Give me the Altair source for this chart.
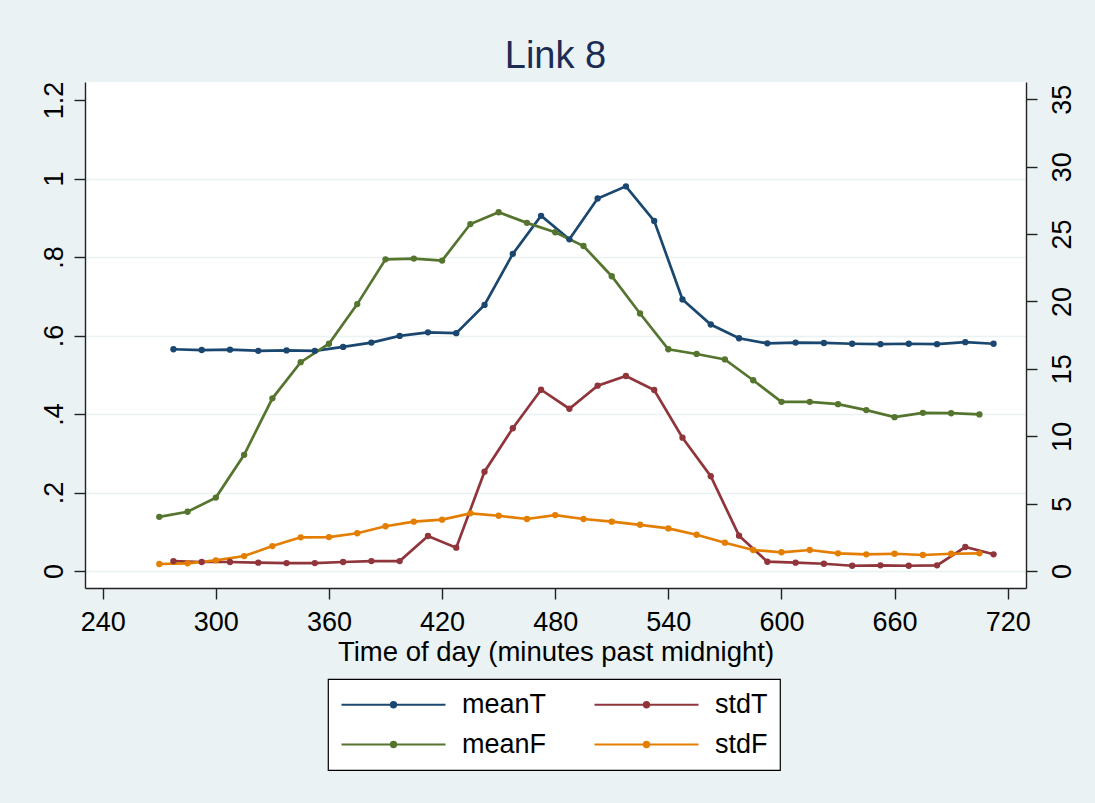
import altair as alt
import pandas as pd

# Time stamps (minutes past midnight) for the travel-time and flow series
time_T = [277.5, 292.5, 307.5, 322.5, 337.5, 352.5, 367.5, 382.5, 397.5, 412.5,
          427.5, 442.5, 457.5, 472.5, 487.5, 502.5, 517.5, 532.5, 547.5, 562.5,
          577.5, 592.5, 607.5, 622.5, 637.5, 652.5, 667.5, 682.5, 697.5, 712.5]
time_F = [270, 285, 300, 315, 330, 345, 360, 375, 390, 405,
          420, 435, 450, 465, 480, 495, 510, 525, 540, 555,
          570, 585, 600, 615, 630, 645, 660, 675, 690, 705]

meanT = [0.565, 0.563, 0.564, 0.561, 0.562, 0.561, 0.571, 0.582, 0.599, 0.608,
         0.606, 0.678, 0.808, 0.905, 0.845, 0.949, 0.980, 0.892, 0.692, 0.628,
         0.593, 0.580, 0.582, 0.581, 0.579, 0.578, 0.579, 0.578, 0.583, 0.579]
meanF = [0.138, 0.151, 0.187, 0.296, 0.440, 0.532, 0.579, 0.680, 0.794, 0.796,
         0.791, 0.884, 0.914, 0.887, 0.863, 0.828, 0.751, 0.656, 0.565, 0.553,
         0.539, 0.486, 0.431, 0.431, 0.425, 0.410, 0.392, 0.403, 0.402, 0.399]
stdT = [0.74, 0.67, 0.67, 0.62, 0.59, 0.59, 0.67, 0.74, 0.74, 2.60,
        1.73, 7.37, 10.59, 13.45, 12.04, 13.75, 14.47, 13.43, 9.89, 7.03,
        2.62, 0.69, 0.62, 0.54, 0.39, 0.42, 0.39, 0.42, 1.78, 1.24]
stdF = [0.52, 0.57, 0.79, 1.11, 1.85, 2.50, 2.52, 2.80, 3.32, 3.66,
        3.81, 4.28, 4.10, 3.86, 4.15, 3.86, 3.66, 3.43, 3.16, 2.69,
        2.10, 1.56, 1.39, 1.56, 1.31, 1.24, 1.28, 1.19, 1.28, 1.31]

series_names = ["meanT", "stdT", "meanF", "stdF"]
series_colors = ["#1a476f", "#90353b", "#55752f", "#e37e00"]

left_ticks = [0, 0.2, 0.4, 0.6, 0.8, 1, 1.2]
right_ticks = [0, 5, 10, 15, 20, 25, 30, 35]
x_ticks = [240, 300, 360, 420, 480, 540, 600, 660, 720]

frames = []
for name, t, v in [("meanT", time_T, meanT), ("stdT", time_T, stdT),
                   ("meanF", time_F, meanF), ("stdF", time_F, stdF)]:
    frames.append(pd.DataFrame({"time": t, "value": v, "series": name}))
df = pd.concat(frames, ignore_index=True)

FONT = "Liberation Sans"
W, H = 941, 506
LBL = 27

# Legend glyph: a long horizontal line with a dot in the middle.  The path is
# drawn in units far beyond [-1, 1] so a small symbol size keeps rows compact.
legend_path = ("M -13 0 L 13 0 "
               "M 0.65 0 A 0.65 0.65 0 1 1 -0.65 0 A 0.65 0.65 0 1 1 0.65 0 Z")

color = alt.Color(
    "series:N",
    scale=alt.Scale(domain=series_names, range=series_colors),
    sort=series_names,
    legend=alt.Legend(
        title=None, orient="none", legendX=243, legendY=597, columns=2,
        direction="horizontal",
        fillColor="white", strokeColor="black",
        padding=12, labelFont=FONT, labelFontSize=27, labelColor="black",
        labelOffset=55, columnPadding=43, rowPadding=12,
        symbolType=legend_path, symbolSize=64, symbolStrokeWidth=2.1,
        symbolOffset=40, symbolOpacity=1,
    ),
)

x = alt.X(
    "time:Q",
    title="Time of day (minutes past midnight)",
    scale=alt.Scale(domain=[230.6, 729.7], nice=False, zero=False),
    axis=alt.Axis(values=x_ticks, grid=False, labelFontSize=LBL, labelFont=FONT,
                  labelColor="black", tickSize=11, tickColor="#222", tickWidth=1.4,
                  domainColor="#222", domainWidth=1.4, labelPadding=10,
                  titleFont=FONT, titleFontSize=27.5, titleFontWeight="normal",
                  titleColor="black", titleBaseline="alphabetic", titleY=72,
                  labelFlush=False),
)

line_mark = dict(strokeWidth=2.7)
point_def = alt.OverlayMarkDef(filled=True, size=40, opacity=1)

means = alt.Chart(df).transform_filter(
    alt.FieldOneOfPredicate(field="series", oneOf=["meanT", "meanF"])
).mark_line(point=point_def, **line_mark).encode(
    x=x,
    y=alt.Y("value:Q", title=None,
            scale=alt.Scale(domain=[-0.0433, 1.2459], nice=False, zero=False),
            axis=alt.Axis(orient="left", values=left_ticks, grid=True,
                          gridColor="#eaf2f3", gridWidth=1.6,
                          gridOpacity={"condition": {"test": "datum.value > 1.1", "value": 0},
                                       "value": 1},
                          labelExpr="datum.value > 0 && datum.value < 1 ? substring(toString(datum.value), 1) : toString(datum.value)",
                          labelAngle=-90, labelAlign="center", labelBaseline="alphabetic",
                          labelFont=FONT, labelFontSize=LBL, labelColor="black",
                          labelPadding=12, tickSize=11, tickColor="#222", tickWidth=1.4,
                          domainColor="#222", domainWidth=1.4)),
    color=color,
    detail="series:N",
)

stds = alt.Chart(df).transform_filter(
    alt.FieldOneOfPredicate(field="series", oneOf=["stdT", "stdF"])
).mark_line(point=point_def, **line_mark).encode(
    x=x,
    y=alt.Y("value:Q", title=None,
            scale=alt.Scale(domain=[-1.26, 36.28], nice=False, zero=False),
            axis=alt.Axis(orient="right", values=right_ticks, grid=False,
                          labelAngle=-90, labelAlign="center", labelBaseline="top",
                          labelFont=FONT, labelFontSize=LBL, labelColor="black",
                          labelPadding=12, tickSize=11, tickColor="#222", tickWidth=1.4,
                          domainColor="#222", domainWidth=1.4)),
    color=color,
    detail="series:N",
)

chart = alt.layer(means, stds).resolve_scale(y="independent").properties(
    width=W, height=H,
    title=alt.TitleParams("Link 8", font=FONT, fontSize=38, fontWeight="normal",
                          color="#1c2b54", anchor="middle", baseline="alphabetic",
                          offset=9, dy=34),
    autosize=alt.AutoSizeParams(type="none"),
    padding={"left": 85, "top": 82, "right": 69, "bottom": 215},
    background="#eaf2f3",
).configure_view(fill="white", stroke=None).configure_legend(strokeWidth=1.2)

chart.save("out.html", embed_options={"renderer": "svg", "actions": False})
